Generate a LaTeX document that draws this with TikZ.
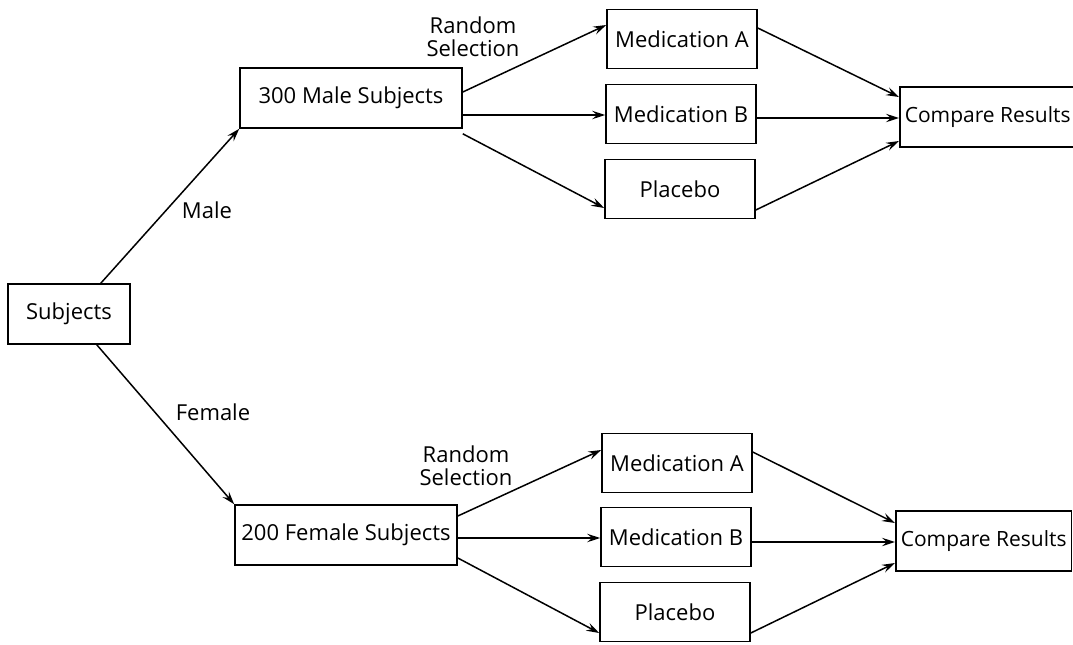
\documentclass[tikz,border=0pt]{standalone}
\usepackage{fontspec}
\setmainfont{Open Sans}
\usetikzlibrary{arrows.meta}
\tikzset{
  box/.style={draw, line width=0.8pt, minimum height=30pt, inner sep=2.5pt,
    font=\fontsize{11}{13}\selectfont},
  medbox/.style={box, minimum width=75pt, minimum height=29.5pt},
  compbox/.style={box, anchor=west, inner xsep=2.5pt,
    font=\fontsize{10.5}{12.5}\selectfont},
  lbl/.style={font=\fontsize{11}{11.5}\selectfont, align=center},
  link/.style={-{Stealth[length=6.5pt,width=4.2pt,inset=2.4pt]}, line width=0.75pt},
}
\begin{document}
\begin{tikzpicture}[x=0.5pt, y=-0.5pt]
        \useasboundingbox (0,0) rectangle (1073,644);
        % Start node
        \node[box, minimum width=61pt] (sub) at (69,314) {Subjects};
        % Male branch
        \node[box, minimum width=111pt] (grp-m) at (351,98) {300 Male Subjects};
        \node[medbox] (medA-m) at (682,39) {Medication A};
        \node[medbox] (medB-m) at (681,114) {Medication B};
        \node[medbox] (plac-m) at (680,189) {Placebo};
        \node[compbox] (comp-m) at (899,117) {Compare Results};
        % Female branch
        \node[box, minimum width=111pt] (grp-f) at (346,535) {200 Female Subjects};
        \node[medbox] (medA-f) at (677,463) {Medication A};
        \node[medbox] (medB-f) at (676,537) {Medication B};
        \node[medbox] (plac-f) at (675,612) {Placebo};
        \node[compbox] (comp-f) at (895,541) {Compare Results};
        % Labels
        \node[lbl] (sel-m) at (473,37) {Random\\Selection};
        \node[lbl] (sel-f) at (466,466) {Random\\Selection};
        \node[lbl] (lab-m) at (207,210) {Male};
        \node[lbl] (lab-f) at (213,412) {Female};
        % Split by sex
        \draw[link] ([xshift=-15pt]sub.north east) -- (grp-m.south west);
        \draw[link] ([xshift=-17pt]sub.south east) -- (grp-f.north west);
        % Male arrows
        \draw[link] ([yshift=3pt]grp-m.east) -- ([yshift=7pt]medA-m.west);
        \draw[link] ([yshift=-8.5pt]grp-m.east) -- ([yshift=-0.5pt]medB-m.west);
        \draw[link] ([yshift=-2.5pt]grp-m.south east) -- ([yshift=-9.5pt]plac-m.west);
        \draw[link] ([yshift=5.5pt]medA-m.east) -- ([yshift=10pt]comp-m.west);
        \draw[link] ([yshift=-2pt]medB-m.east) -- ([yshift=-0.5pt]comp-m.west);
        \draw[link] ([yshift=-10.5pt]plac-m.east) -- ([yshift=-12pt]comp-m.west);
        % Female arrows
        \draw[link] ([yshift=9.5pt]grp-f.east) -- ([yshift=6.5pt]medA-f.west);
        \draw[link] ([yshift=-1.5pt]grp-f.east) -- ([yshift=-0.5pt]medB-f.west);
        \draw[link] ([yshift=-11.5pt]grp-f.east) -- ([yshift=-10.5pt]plac-f.west);
        \draw[link] ([yshift=5.5pt]medA-f.east) -- ([yshift=9pt]comp-f.west);
        \draw[link] ([yshift=-2.5pt]medB-f.east) -- ([yshift=-0.5pt]comp-f.west);
        \draw[link] ([yshift=-10.5pt]plac-f.east) -- ([yshift=-11pt]comp-f.west);
\end{tikzpicture}
\end{document}
